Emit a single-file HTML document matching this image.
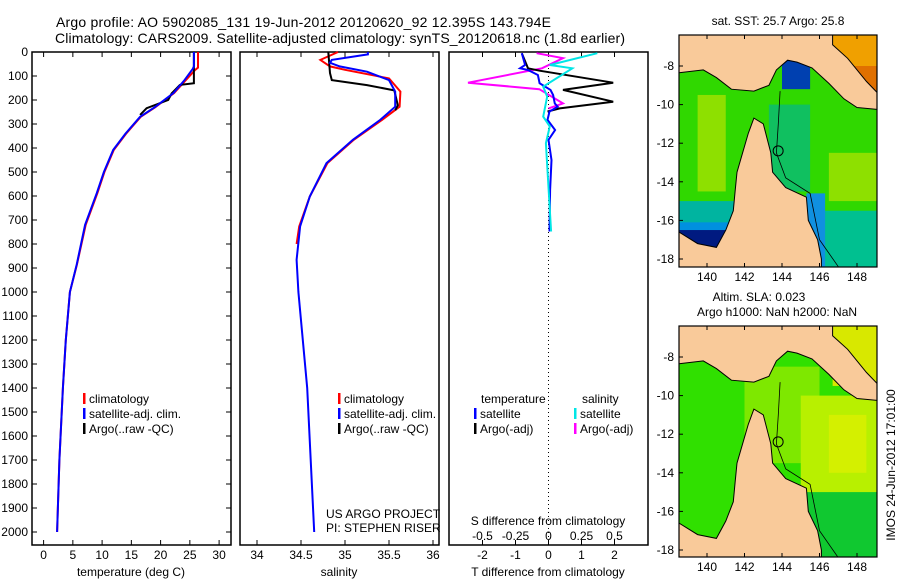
<!DOCTYPE html>
<html><head><meta charset="utf-8"><style>
html,body{margin:0;padding:0;background:#fff;}
svg text{font-family:"Liberation Sans",sans-serif;fill:#000;}
</style></head><body>
<svg id="fig" width="900" height="580" viewBox="0 0 900 580" xmlns="http://www.w3.org/2000/svg">
<text x="56" y="27" font-size="14" textLength="495">Argo profile: AO 5902085_131 19-Jun-2012 20120620_92 12.395S 143.794E</text>
<text x="55" y="43" font-size="14" textLength="570">Climatology: CARS2009. Satellite-adjusted climatology: synTS_20120618.nc (1.8d earlier)</text>
<g id="panels"></g>
<g id="maps"></g>
</svg>
<script>
// ---- data ----
const depthTicks=[0,100,200,300,400,500,600,700,800,900,1000,1100,1200,1300,1400,1500,1600,1700,1800,1900,2000];
const tempTicks=[0,5,10,15,20,25,30];
const salTicks=[34,34.5,35,35.5,36];
const salTickLabels=["34","34.5","35","35.5","36"];
const dTTicks=[-2,-1,0,1,2];
const dSTickLabels=["-0.5","-0.25","0","0.25","0.5"];
const dSTicks=[-0.5,-0.25,0,0.25,0.5];

const tSatDepth=[0,60,70,120,171,230,270,340,408,500,588,720,886,1000,1200,1400,1700,2000];
const tSatVal=[25.7,25.7,25.5,24.0,22.2,19.0,16.5,14.0,11.9,10.3,9.1,7.1,5.65,4.5,3.8,3.3,2.7,2.3];
const tClimDepth=[0,65,75,120,171,230,270,340,408,500,588,720,886,1000,1200,1400,1700,2000];
const tClimVal=[26.4,26.4,25.9,24.2,22.3,19.1,16.6,14.1,12.0,10.4,9.2,7.2,5.7,4.5,3.8,3.3,2.7,2.3];
const tArgoDepth=[0,130,137,172,200,234,262];
const tArgoVal=[25.7,25.7,23.3,21.9,21.3,17.6,16.5];

const sSatDepth=[0,10,33,45,60,82,117,165,228,283,366,463,602,727,866,1000,1400,2000];
const sSatVal=[35.26,35.26,34.85,34.83,34.94,35.25,35.5,35.57,35.57,35.40,35.09,34.79,34.6,34.49,34.45,34.47,34.57,34.65];
const sClimDepth=[0,33,60,74,110,165,228,283,366,463,602,727,800];
const sClimVal=[34.92,34.72,34.83,35.0,35.5,35.63,35.62,35.42,35.1,34.8,34.6,34.48,34.45];
const sArgoDepth=[0,88,117,138,160,222,243];
const sArgoVal=[34.81,34.83,34.85,35.25,35.56,35.6,35.57];

const dTSatDepth=[5,54,68,75,96,130,158,179,214,228,248,283,325,366,450,575,748];
const dTSatVal=[-0.81,-0.71,-0.86,-0.62,-0.32,-0.27,0.06,0.14,0.19,0.28,0.03,-0.03,0.2,0,0.09,0.05,0.03];
const dTArgoDepth=[5,68,78,128,158,207,235,248];
const dTArgoVal=[-0.81,-0.62,-0.27,1.96,0.44,1.96,0.34,-0.03];
const dSArgoDepth=[5,26,68,128,155,214,235];
const dSArgoVal=[-0.09,0.11,-0.05,-0.61,-0.07,0.11,0.0];
const dSSatDepth=[5,54,68,144,186,269,310,380,748];
const dSSatVal=[0.37,0.01,0.18,-0.04,-0.01,-0.04,0.01,-0.02,0.02];

const lonTicks=[140,142,144,146,148];
const latTicks=[-8,-10,-12,-14,-16,-18];

{
const NS="http://www.w3.org/2000/svg";
function mk(tag,attrs,parent){const e=document.createElementNS(NS,tag);for(const k in attrs)e.setAttribute(k,attrs[k]);parent.appendChild(e);return e;}
const panels=document.getElementById('panels');
const PTOP=52,PBOT=545;
const yD=d=>PTOP+d*0.24;
const xT=t=>43.6+t*5.85;
const xS=s=>257+(s-34)*88;
const xdT=t=>548.5+t*33;
const xdS=s=>548.5+s*132;

function frame(l,r,name){
  const g=mk('g',{},panels);
  
  
  mk('rect',{x:l,y:PTOP,width:r-l,height:PBOT-PTOP,fill:'none',stroke:'#000','stroke-width':1.5},g);
  return g;
}
function txt(g,x,y,s,name,anchor,size){
  const t=mk('text',{x:x,y:y,'font-size':size||12,'text-anchor':anchor||'start'},g);
  t.textContent=s;
  
  
  return t;
}
function xticks(g,vals,labels,fx,ly,name){
  vals.forEach((v,i)=>{
    const x=fx(v);
    mk('line',{x1:x,y1:PBOT,x2:x,y2:PBOT-5,stroke:'#000'},g);
    mk('line',{x1:x,y1:PTOP,x2:x,y2:PTOP+5,stroke:'#000'},g);
    txt(g,x,ly,labels[i],name,'middle');
  });
}
function line(g,ds,vs,fx,color,name){
  const pts=ds.map((d,i)=>fx(vs[i]).toFixed(1)+','+yD(d).toFixed(1)).join(' ');
  const p=mk('polyline',{points:pts,fill:'none',stroke:color,'stroke-width':2},g);
  
  
}
function legend(g,x,y,color,label,name){
  const b=mk('rect',{x:x,y:y-10,width:2.5,height:11,fill:color},g);
  
  
  txt(g,x+6,y,label,name);
}

// Panel 1
const g1=frame(32,231,'temperature-panel');
depthTicks.forEach(d=>{
  mk('line',{x1:32,y1:yD(d),x2:37,y2:yD(d),stroke:'#000'},g1);
  mk('line',{x1:231,y1:yD(d),x2:226,y2:yD(d),stroke:'#000'},g1);
  txt(g1,28,yD(d)+4,String(d),'depth-tick-label','end');
});
xticks(g1,tempTicks,tempTicks.map(String),xT,559,'temperature-tick-label');
txt(g1,131,576,'temperature (deg C)','temperature-axis-title','middle');
line(g1,tClimDepth,tClimVal,xT,'#ff0000','temp-climatology-line');
line(g1,tArgoDepth,tArgoVal,xT,'#000000','temp-argo-line');
line(g1,tSatDepth,tSatVal,xT,'#0000ff','temp-satellite-line');
legend(g1,83,403,'#ff0000','climatology','legend-climatology');
legend(g1,83,418,'#0000ff','satellite-adj. clim.','legend-satellite');
legend(g1,83,433,'#000000','Argo(..raw -QC)','legend-argo');

// Panel 2
const g2=frame(240,439,'salinity-panel');
xticks(g2,salTicks,salTickLabels,xS,559,'salinity-tick-label');
txt(g2,339,576,'salinity','salinity-axis-title','middle');
line(g2,sClimDepth,sClimVal,xS,'#ff0000','sal-climatology-line');
line(g2,sArgoDepth,sArgoVal,xS,'#000000','sal-argo-line');
line(g2,sSatDepth,sSatVal,xS,'#0000ff','sal-satellite-line');
legend(g2,338,403,'#ff0000','climatology','legend-climatology');
legend(g2,338,418,'#0000ff','satellite-adj. clim.','legend-satellite');
legend(g2,338,433,'#000000','Argo(..raw -QC)','legend-argo');
txt(g2,326,518,'US ARGO PROJECT','project-label');
txt(g2,326,532,'PI: STEPHEN RISER','pi-label');

// Panel 3
const g3=frame(449,648,'difference-panel');
mk('line',{x1:xdT(0),y1:PTOP,x2:xdT(0),y2:PBOT,stroke:'#000','stroke-dasharray':'1,3'},g3);
xticks(g3,dTTicks,dTTicks.map(String),xdT,559,'t-diff-tick-label');
dSTicks.forEach((v,i)=>{txt(g3,xdS(v),540,dSTickLabels[i],'s-diff-tick-label','middle');});
txt(g3,548,525,'S difference from climatology','s-diff-axis-title','middle');
txt(g3,548,576,'T difference from climatology','t-diff-axis-title','middle');
line(g3,dSArgoDepth,dSArgoVal,xdS,'#ff00ff','s-diff-argo-line');
line(g3,dTArgoDepth,dTArgoVal,xdT,'#000000','t-diff-argo-line');
line(g3,dTSatDepth,dTSatVal,xdT,'#0000ff','t-diff-satellite-line');
line(g3,dSSatDepth,dSSatVal,xdS,'#00e6e6','s-diff-satellite-line');
txt(g3,481,403,'temperature','legend-temperature-header');
txt(g3,582,403,'salinity','legend-salinity-header');
legend(g3,474,418,'#0000ff','satellite','legend-t-satellite');
legend(g3,474,433,'#000000','Argo(-adj)','legend-t-argo');
legend(g3,574,418,'#00e6e6','satellite','legend-s-satellite');
legend(g3,574,433,'#ff00ff','Argo(-adj)','legend-s-argo');

// ---- maps ----
const mapsG=document.getElementById('maps');
const papua=[[138.5,-6.3],[146.7,-6.3],[146.7,-6.9],[147.5,-7.6],[148.5,-8.8],[149.1,-9.4],[149.1,-10.25],[148,-10.15],[147.3,-9.7],[146.5,-8.9],[145.6,-8.1],[144.8,-7.8],[144.3,-7.7],[143.7,-8.2],[143.3,-9.0],[142.5,-9.3],[141.3,-9.2],[140.5,-8.6],[139.8,-8.2],[138.5,-8.35]];
const aus=[[138.5,-18.5],[138.5,-16.6],[139.5,-17.2],[140.5,-17.4],[141,-16.5],[141.4,-15.5],[141.5,-14.5],[141.6,-13.5],[141.9,-12.5],[142.2,-11.5],[142.5,-10.7],[143,-11.0],[143.4,-12.5],[143.5,-13.5],[144.2,-14.3],[145.3,-14.8],[145.4,-16],[145.9,-17],[146.1,-18],[146.1,-18.5]];
function drawMap(y0,y8,H,base,patches,name){
  const g=mk('g',{},mapsG);
  
  
  const L=679,R=877,T=y0,B=y0+H;
  const ppd=19.3;
  const px=lon=>707+(lon-140)*18.75;
  const py=lat=>y8+(-8-lat)*ppd;
  const cid='clip'+name;
  const cp=mk('clipPath',{id:cid},g);
  mk('rect',{x:L,y:T,width:R-L,height:B-T},cp);
  const inner=mk('g',{'clip-path':'url(#'+cid+')'},g);
  mk('rect',{x:L,y:T,width:R-L,height:B-T,fill:base},inner);
  patches.forEach(p=>{mk('rect',{x:px(p[0]),y:py(p[3]),width:px(p[1])-px(p[0]),height:py(p[2])-py(p[3]),fill:p[4]},inner);});
  [papua,aus].forEach((poly,i)=>{
    const pl=mk('polygon',{points:poly.map(q=>px(q[0]).toFixed(1)+','+py(q[1]).toFixed(1)).join(' '),fill:'#f9ca9a',stroke:'#000','stroke-width':1},inner);
    
    
  });
  const sh=[[143.9,-9.3],[143.8,-11],[143.7,-12.5],[144.2,-13.8],[145.5,-14.6],[146,-17],[147,-18.4]];
  mk('polyline',{points:sh.map(q=>px(q[0]).toFixed(1)+','+py(q[1]).toFixed(1)).join(' '),fill:'none',stroke:'#000','stroke-width':0.8},inner);
  const c=mk('circle',{cx:px(143.794),cy:py(-12.395),r:5,fill:'none',stroke:'#000'},g);
  
  
  mk('rect',{x:L,y:T,width:R-L,height:B-T,fill:'none',stroke:'#000','stroke-width':1.2},g);
  lonTicks.forEach(v=>{const x=px(v);mk('line',{x1:x,y1:B,x2:x,y2:B-4,stroke:'#000'},g);mk('line',{x1:x,y1:T,x2:x,y2:T+4,stroke:'#000'},g);txt(g,x,B+14,String(v),'lon-tick-label','middle');});
  latTicks.forEach(v=>{const y=py(v);mk('line',{x1:L,y1:y,x2:L+4,y2:y,stroke:'#000'},g);txt(g,674,y+4,String(v),'lat-tick-label','end');});
  return g;
}
const sstPatches=[[139.5,141,-14.5,-9.5,'#8ee000'],[146.5,149.1,-15,-12.5,'#8ee000'],[138.5,141.5,-16.2,-15,'#00b4a0'],[138.5,141.5,-16.6,-16.1,'#0090e0'],[138.5,141.5,-18.5,-16.5,'#001a80'],[144.5,149.1,-18.5,-15.5,'#00c090'],[145.3,146.3,-18.5,-14.6,'#1090e0'],[143.3,145.5,-14.5,-10,'#10c060'],[144,145.5,-9.2,-7.5,'#0040b0'],[146.7,149.1,-8.5,-6.3,'#f0a000'],[147.8,149.1,-9.4,-8,'#e07000']];
const g4=drawMap(35,66,232,'#30d800',sstPatches,'sst-map');
txt(g4,778,25,'sat. SST: 25.7 Argo: 25.8','sst-map-title','middle');
const slaPatches=[[142,146,-13.5,-8.5,'#7ee800'],[145,149.1,-15.5,-10,'#b8f000'],[146.5,148.5,-14,-11,'#d4f000'],[145,149.1,-18.5,-15,'#10c830'],[146.7,149.1,-9.5,-6.3,'#d8e800']];
const g5=drawMap(326,357,231,'#30e000',slaPatches,'sla-map');
txt(g5,759,301,'Altim. SLA: 0.023','sla-map-title','middle');
txt(g5,777,316,'Argo h1000: NaN h2000: NaN','sla-map-subtitle','middle');
const st=txt(g5,0,0,'IMOS 24-Jun-2012 17:01:00','timestamp-label','middle');
st.setAttribute('transform','translate(895,465) rotate(-90)');
}
</script>
</body></html>
